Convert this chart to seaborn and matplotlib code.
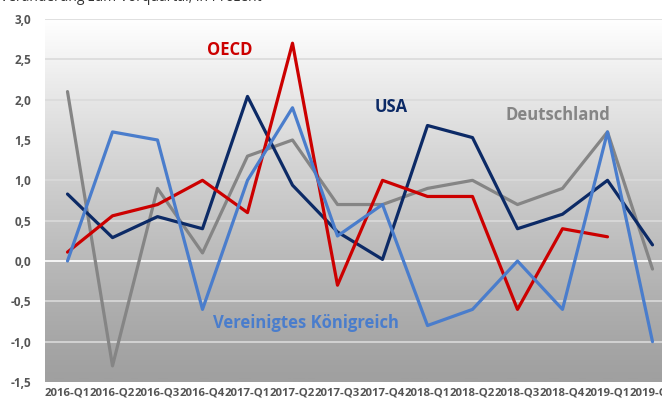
import numpy as np
import pandas as pd
import matplotlib
matplotlib.use("Agg")
import matplotlib.pyplot as plt
import seaborn as sns

# Quartale und Werte (Veränderung zum Vorquartal, in Prozent)
quarters = ["2016-Q1", "2016-Q2", "2016-Q3", "2016-Q4", "2017-Q1", "2017-Q2", "2017-Q3",
            "2017-Q4", "2018-Q1", "2018-Q2", "2018-Q3", "2018-Q4", "2019-Q1", "2019-Q2"]
deutschland = [2.1, -1.3, 0.9, 0.1, 1.3, 1.5, 0.7, 0.7, 0.9, 1.0, 0.7, 0.9, 1.6, -0.1]
usa = [0.83, 0.29, 0.55, 0.4, 2.04, 0.94, 0.36, 0.02, 1.68, 1.53, 0.4, 0.58, 1.0, 0.2]
oecd = [0.11, 0.56, 0.7, 1.0, 0.6, 2.7, -0.3, 1.0, 0.8, 0.8, -0.6, 0.4, 0.3, np.nan]
uk = [0.0, 1.6, 1.5, -0.6, 1.0, 1.9, 0.31, 0.7, -0.8, -0.6, 0.0, -0.6, 1.6, -1.0]

series = {"Deutschland": deutschland, "USA": usa, "OECD": oecd, "Vereinigtes Königreich": uk}
colors = {"Deutschland": "#858585", "USA": "#0c2a66", "OECD": "#cc0000",
          "Vereinigtes Königreich": "#4a7dcc"}

df = pd.DataFrame({"Quartal": quarters, **series})
long = df.melt(id_vars="Quartal", var_name="Land", value_name="Wert")
long["x"] = long["Quartal"].map({q: i for i, q in enumerate(quarters)})

sns.set_style("white")
plt.rcParams["font.family"] = ["Open Sans", "DejaVu Sans"]

fig = plt.figure(figsize=(6.62, 4.03), dpi=100)
ax = fig.add_axes([45 / 662, 21 / 403, 630 / 662, 363 / 403])

# Hintergrund-Verlauf weiß -> grau
grad = np.linspace(1.0, 0.0, 256).reshape(-1, 1) ** 1.2
cmap = matplotlib.colors.LinearSegmentedColormap.from_list("bg", ["#a0a0a0", "#ffffff"])
ax.imshow(grad, aspect="auto", cmap=cmap, extent=[-0.5, 13.5, -1.5, 3.0], origin="upper",
          zorder=0, vmin=0, vmax=1)

for y in np.arange(-1.0, 3.01, 0.5):
    c = "#ffffff" if abs(y) < 1e-9 else "#dadada"
    ax.axhline(y, color=c, lw=1.2, zorder=1)

sns.lineplot(data=long, x="x", y="Wert", hue="Land", palette=colors, lw=2.3,
             legend=False, ax=ax, zorder=3)

ax.set_xlim(-0.5, 13.5)
ax.set_ylim(-1.5, 3.0)
ax.set_xticks(range(len(quarters)))
ax.set_xticklabels(quarters, fontsize=8.2, fontweight="bold", color="#555555")
ax.set_yticks(np.arange(-1.5, 3.01, 0.5))
ax.set_yticklabels([f"{v:.1f}".replace(".", ",") for v in np.arange(-1.5, 3.01, 0.5)],
                   fontsize=8.5, fontweight="bold", color="#555555")
ax.tick_params(length=0, pad=10)
ax.tick_params(axis="x", pad=4)
ax.set_xlabel("")
ax.set_ylabel("")
for s in ax.spines.values():
    s.set_visible(False)

# Beschriftungen der Linien
lab = dict(fontsize=12, fontweight="bold", ha="center", va="center")
ax.text(3.6, 2.61, "OECD", color=colors["OECD"], **lab)
ax.text(7.2, 1.91, "USA", color=colors["USA"], **lab)
ax.text(10.9, 1.81, "Deutschland", color=colors["Deutschland"], **lab)
ax.text(5.3, -0.77, "Vereinigtes Königreich", color=colors["Vereinigtes Königreich"], **lab)

fig.text(0.0, 1.006, "Veränderung zum Vorquartal, in Prozent", fontsize=10, color="#333333",
         ha="left", va="center")

fig.savefig("out.png", dpi=100)
